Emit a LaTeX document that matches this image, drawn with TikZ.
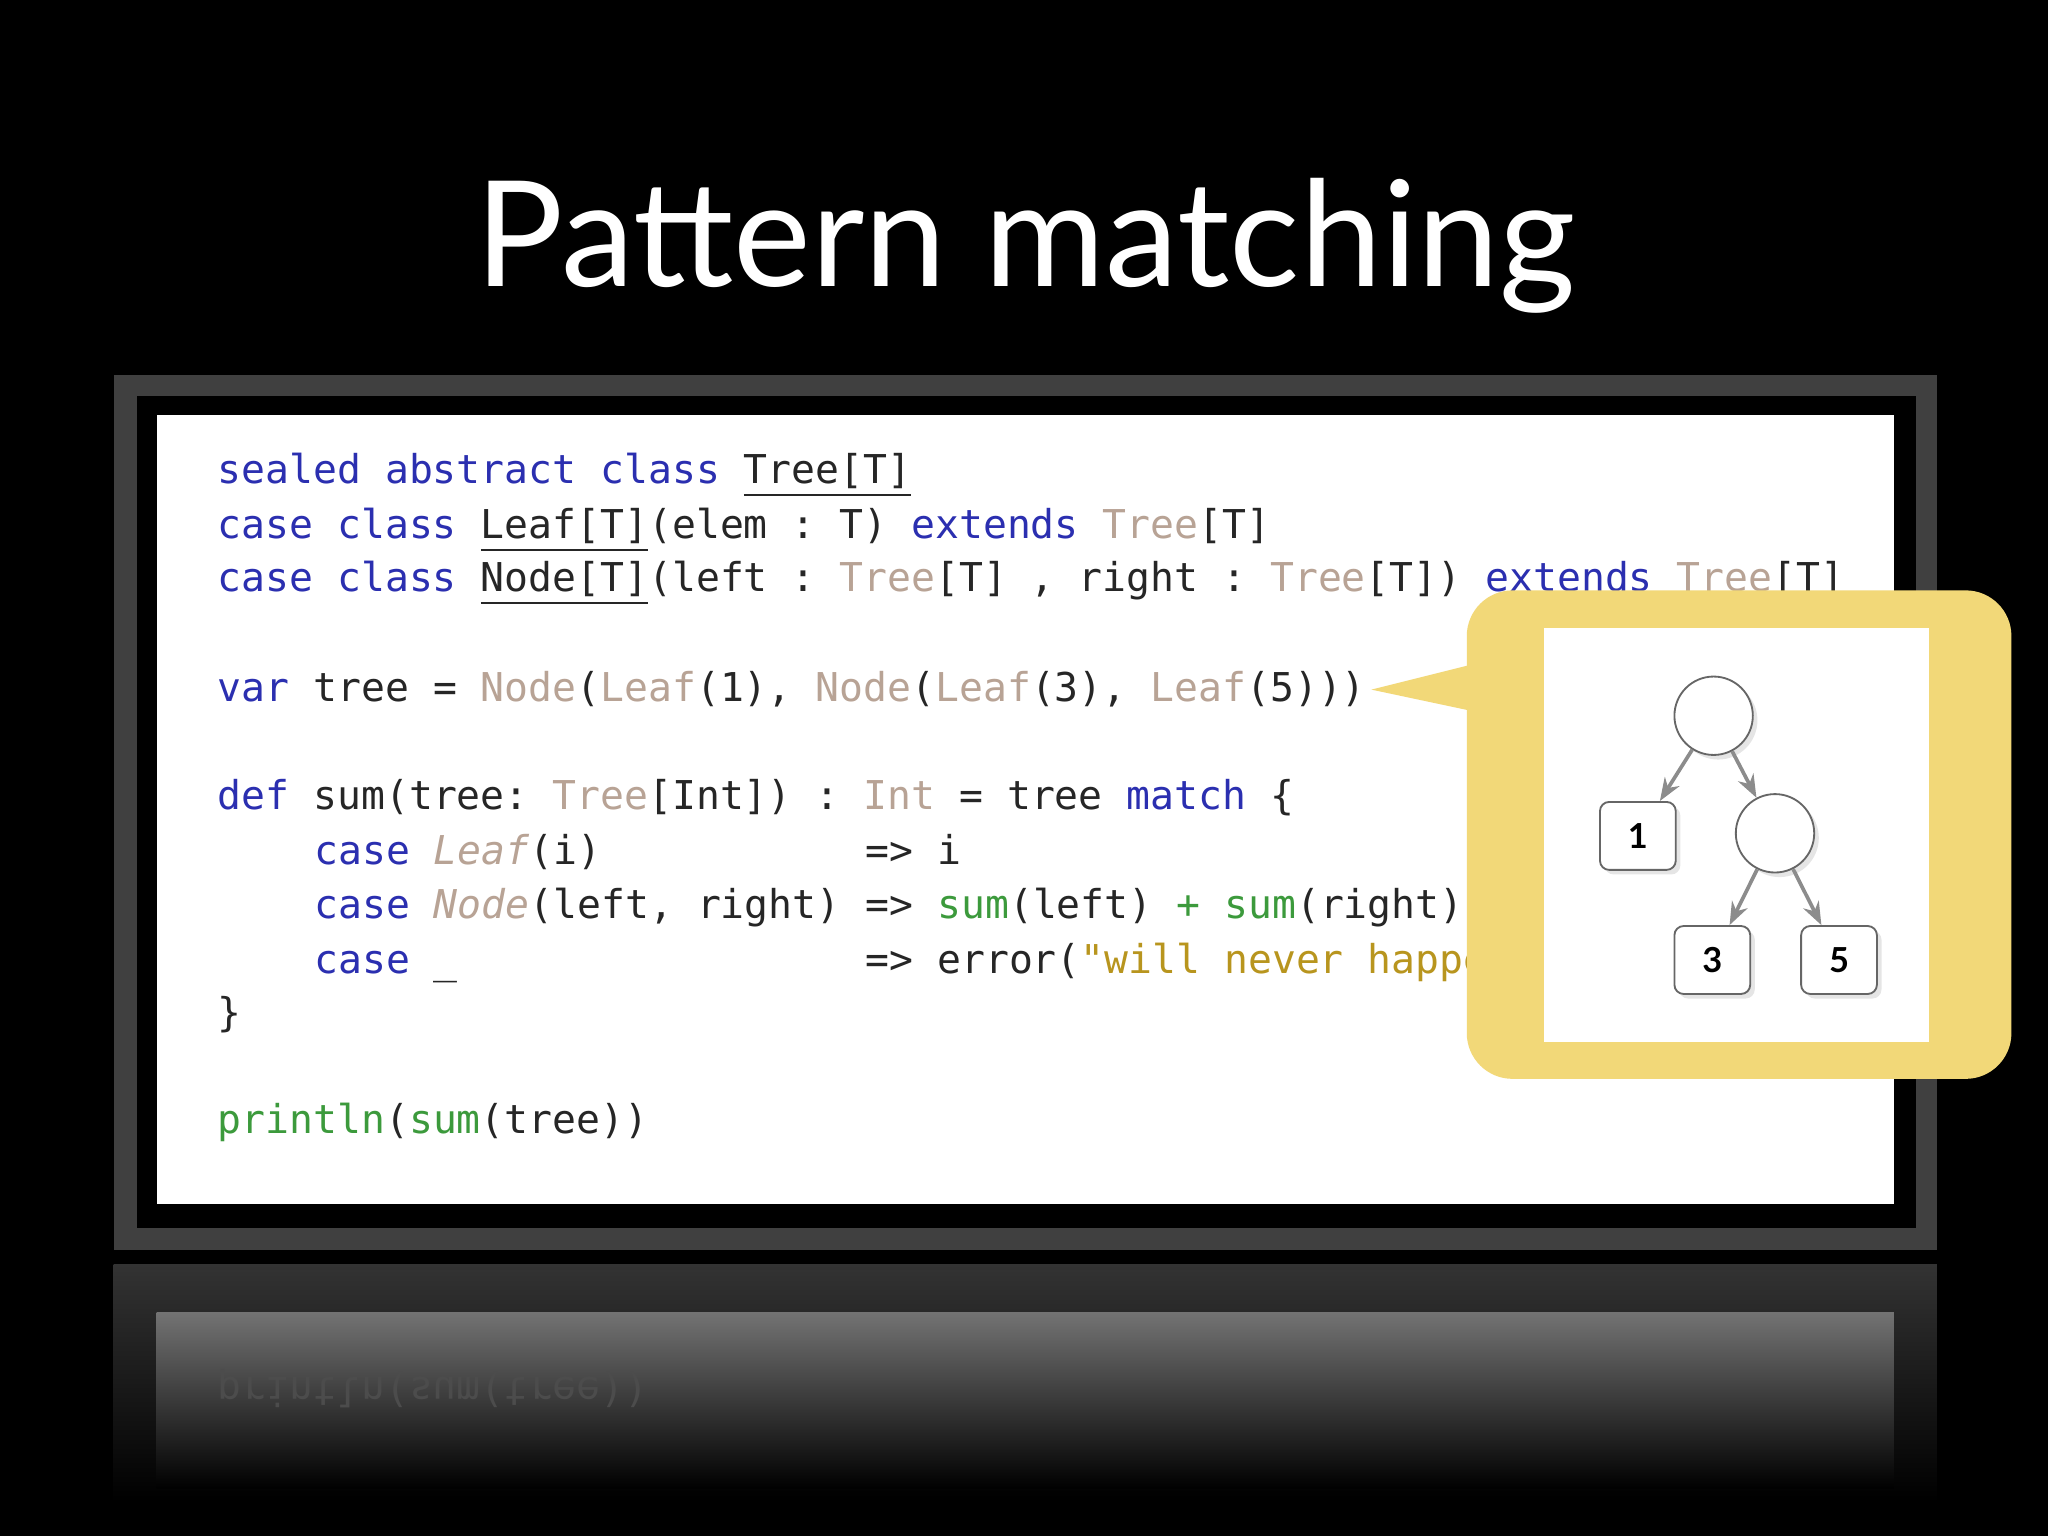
\documentclass[tikz,border=0pt]{standalone}
\usepackage{fontspec}
\setmainfont{Lato}
\setmonofont{DejaVu Sans Mono}
\usetikzlibrary{arrows.meta,shadows}
\definecolor{kw}{HTML}{2B2FB0}
\definecolor{ty}{HTML}{B8A395}
\definecolor{fn}{HTML}{3C9A3C}
\definecolor{st}{HTML}{B8951E}
\definecolor{cy}{HTML}{F2D878}
\newcommand{\K}[1]{\textcolor{kw}{#1}}
\newcommand{\Ty}[1]{\textcolor{ty}{#1}}
\newcommand{\F}[1]{\textcolor{fn}{#1}}
\newcommand{\St}[1]{\textcolor{st}{#1}}
\newcommand{\I}[1]{\textcolor{ty}{\itshape #1}}
\begin{document}
\begin{tikzpicture}[x=0.01cm,y=-0.01cm,
  code/.style={anchor=base west,inner sep=0pt,font=\ttfamily\fontsize{8.65pt}{10pt}\selectfont,text=black!85},
  tnode/.style={circle,draw=black!60,fill=white,minimum size=0.6cm,inner sep=0pt,drop shadow={opacity=0.2,shadow xshift=1pt,shadow yshift=-1pt}},
  leaf/.style={rectangle,rounded corners=2pt,draw=black!60,fill=white,minimum width=0.58cm,minimum height=0.52cm,font=\rmfamily\bfseries\fontsize{7.5pt}{9pt}\selectfont,drop shadow={opacity=0.2,shadow xshift=1pt,shadow yshift=-1pt}},
  edge/.style={draw=black!45,line width=0.8pt,-{Stealth[length=5pt]}}]
\fill[black] (0,0) rectangle (1568,1176);
\node[text=white,font=\fontsize{32pt}{38pt}\selectfont] (title) at (785,188) {Pattern matching};
% frame
\fill[black!75] (87,287) rectangle (1483,957);
\fill[black] (105,303) rectangle (1467,940);
\fill[white] (120,318) rectangle (1450,922);
% reflection
\shade[top color=black!80,bottom color=black] (87,968) rectangle (1483,1150);
\shade[top color=black!55,bottom color=black] (120,1005) rectangle (1450,1140);
\node[code,text=black!70,yscale=-1,anchor=base west] (refl) at (166,1055) {println(sum(tree))};
% code
\node[code] (l1) at (166,370) {\K{sealed abstract class} \underline{Tree[T]}};
\node[code] (l2) at (166,412) {\K{case class} \underline{Leaf[T]}(elem : T) \K{extends} \Ty{Tree}[T]};
\node[code] (l3) at (166,453) {\K{case class} \underline{Node[T]}(left : \Ty{Tree}[T] , right : \Ty{Tree}[T]) \K{extends} \Ty{Tree}[T]};
\node[code] (l4) at (166,537) {\K{var} tree = \Ty{Node}(\Ty{Leaf}(1), \Ty{Node}(\Ty{Leaf}(3), \Ty{Leaf}(5)))};
\node[code] (l5) at (166,620) {\K{def} sum(tree: \Ty{Tree}[Int]) : \Ty{Int} = tree \K{match} \{};
\node[code] (l6a) at (240,662) {\K{case} \I{Leaf}(i)};
\node[code] (l6b) at (662,662) {=> i};
\node[code] (l7a) at (240,703) {\K{case} \I{Node}(left, right)};
\node[code] (l7b) at (662,703) {=> \F{sum}(left) \F{+} \F{sum}(right)};
\node[code] (l8a) at (240,745) {\K{case} \_};
\node[code] (l8b) at (662,745) {=> error(\St{"will never happen"})};
\node[code] (l9) at (166,786) {\}};
\node[code] (l10) at (166,868) {\F{println}(\F{sum}(tree))};
% callout
\fill[cy] (1130,508) -- (1050,528) -- (1130,545) -- cycle;
\fill[cy,rounded corners=0.35cm] (1123,452) rectangle (1540,826);
\fill[white] (1182,481) rectangle (1477,798);
\node[tnode] (r) at (1312,548) {};
\node[tnode] (n) at (1359,638) {};
\node[leaf] (a) at (1254,640) {1};
\node[leaf] (b) at (1311,735) {3};
\node[leaf] (c) at (1408,735) {5};
\draw[edge] (r) -- (a);
\draw[edge] (r) -- (n);
\draw[edge] (n) -- (b);
\draw[edge] (n) -- (c);
\end{tikzpicture}
\end{document}
